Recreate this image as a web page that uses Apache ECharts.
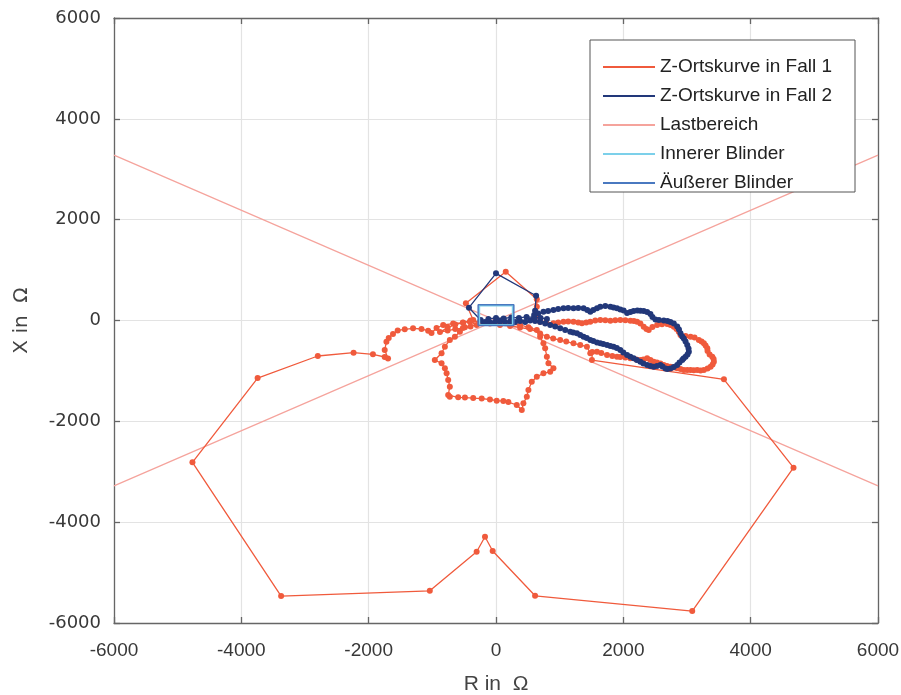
<!DOCTYPE html>
<html>
<head>
<meta charset="utf-8">
<title>Z-Ortskurve</title>
<script src="https://cdn.jsdelivr.net/npm/echarts@6.0.0/dist/echarts.min.js"></script>
<style>
  html, body { margin: 0; padding: 0; background: #fff; }
  #chart { width: 901px; height: 695px; }
</style>
</head>
<body>
<div id="chart"></div>
<script>
// Fall 1 (R / X in Ohm)
const fall1R = [-358, -473, 153, 641, 641, 646,
  693, 788, 902, 977, 1060, 1134, 1217, 1292, 1350, 1418,
  1481, 1559, 1638, 1717, 1796, 1874, 1953, 2032, 2111, 2166,
  2216, 2268, 2320, 2363, 2399, 2457, 2531, 2607, 2689, 2741,
  2793, 2835, 2871, 2898, 2977, 3056, 3119, 3186, 3229, 3265,
  3292, 3319, 3323, 3355, 3397, 3418, 3422, 3402, 3371, 3323,
  3265, 3213, 3161, 3107, 3056, 3004, 2950, 2898, 2846, 2793,
  2741, 2685, 2635, 2583, 2528, 2477, 2426, 2374, 2315, 2268,
  2205, 2111, 2032, 1953, 1901, 1827, 1744, 1654, 1586, 1512, 1507,
  3580, 4673, 3082, 614, -52, -173, -304, -1040, -3375, -4768, -3744, -2799, -2237, -1933, -1748, -1696,
  -1748, -1721, -1685, -1618, -1544, -1433, -1303, -1170, -1066, -1013, -934, -830, -673, -515, -410, -304,
  -488, -567, -646, -725, -803, -855, -961, -855, -803, -776,
  -751, -725, -751, -725, -594, -488, -358, -225, -95, 11,
  115, 194, 326, 405, 430, 484, 509, 562, 641, 745,
  851, 902, 824, 799, 772, 745, 693, 641, 509, 378,
  221, 63, -95, -252,
  -400, -520, -640, -760, -880, -760, -640, -520, -400,
  63, 221, 378, 536, 693, 799, 898, 1008, 1103, 1217, 1323, 1428, 1481];
const fall1X = [10, 341, 968, 421, 274, 89,
  -24, -40, -56, -40, -24, -20, -24, -40, -56, -40,
  -24, 0, 10, 4, -4, 4, 10, 4, -4, -10,
  -24, -60, -123, -169, -188, -129, -89, -75, -69, -89,
  -123, -169, -222, -288, -308, -321, -337, -387, -417, -452,
  -496, -552, -605, -675, -718, -764, -817, -873, -917, -952,
  -982, -992, -982, -988, -982, -982, -982, -962, -948, -932,
  -917, -903, -883, -853, -833, -817, -784, -750, -774, -784,
  -774, -750, -734, -724, -718, -704, -684, -645, -619, -625, -784,
  -1167, -2920, -5764, -5460, -4573, -4289, -4587, -5361, -5466, -2813, -1141, -704, -639, -671, -724, -754,
  -585, -421, -347, -268, -198, -175, -155, -169, -202, -248, -149, -89, -60, -44, -24, -89,
  -135, -222, -321, -387, -520, -651, -784, -849, -948, -1048,
  -1180, -1313, -1478, -1512, -1524, -1528, -1538, -1548, -1567, -1591,
  -1597, -1617, -1676, -1776, -1643, -1512, -1379, -1214, -1115, -1048,
  -1016, -948, -849, -718, -552, -452, -321, -188, -135, -89,
  -69, -50, -60, -40,
  -120, -150, -170, -200, -230, -140, -80, -40, 0,
  -89, -109, -139, -169, -258, -321, -357, -387, -417, -452, -486, -520, -651];

// Fall 2
const fall2R = [-200, -241, -425, 0, 630, 614, 599, 662, 745, 819,
  902, 977, 1060, 1134, 1217, 1292, 1375, 1433, 1481, 1528,
  1586, 1638, 1717, 1796, 1847, 1901, 1953, 2005, 2059, 2111,
  2162, 2221, 2268, 2320, 2374, 2426, 2457, 2504, 2559, 2635,
  2693, 2741, 2793, 2846, 2874, 2898, 2925, 2950, 2977, 3004,
  3024, 3029, 3008, 2977, 2945, 2925, 2882, 2846, 2793, 2741,
  2693, 2662, 2615, 2583, 2528, 2477, 2426, 2374, 2315, 2268,
  2213, 2162, 2111, 2059, 2000, 1953, 1898, 1847, 1796, 1744,
  1685, 1638, 1586, 1528, 1481, 1425, 1375, 1323, 1271, 1213,
  1166, 1087, 1008, 929, 851, 772, 693, 614, 536, 457,
  378, 299, 221, 142, 63, -16, -95, -173,
  -120, 0, 120, 240, 360, 480, 600, 700, 800];
const fall2X = [-44, 10, 254, 936, 492, 194, 109, 139, 175, 188,
  208, 228, 242, 248, 242, 248, 242, 208, 175, 208,
  242, 274, 288, 274, 258, 242, 218, 198, 149, 169,
  188, 198, 194, 188, 169, 129, 69, 20, 10, 0,
  -10, -30, -60, -119, -179, -254, -317, -357, -417, -486,
  -556, -619, -675, -718, -754, -784, -833, -883, -923, -950,
  -962, -950, -913, -883, -903, -917, -903, -883, -853, -817,
  -784, -750, -718, -684, -635, -585, -546, -520, -506, -486,
  -466, -452, -436, -407, -387, -347, -321, -288, -254, -238,
  -222, -188, -155, -119, -89, -60, -30, -10, 0, -30,
  -10, -30, -20, -30, -20, -30, -40, -30,
  30, 50, 40, 60, 50, 70, 60, 50, 30];

// Lastbereich: two lines through the origin
const lastR = [-6000, 6000];
const lastXa = [3280, -3280];
const lastXb = [-3280, 3280];

// Blinder rectangles
const innerR = [-260, 260, 260, -260, -260];
const innerX = [-85, -85, 295, 295, -85];
const outerR = [-280, 280, 280, -280, -280];
const outerX = [-100, -100, 310, 310, -100];

const ticks = [-6000, -4000, -2000, 0, 2000, 4000, 6000];

const zip = (a, b) => a.map((v, i) => [v, b[i]]);

const chart = echarts.init(document.getElementById('chart'), null, { renderer: 'canvas' });

const axisLineStyle = { color: '#666', width: 1.3 };
const baseAxis = {
  type: 'value',
  min: ticks[0],
  max: ticks[ticks.length - 1],
  interval: 2000
};
const plain = (v) => String(v);

const option = {
  animation: false,
  backgroundColor: '#fff',
  grid: { left: 114, right: 23, top: 18, bottom: 72, outerBoundsMode: 'none' },
  xAxis: [
    Object.assign({}, baseAxis, {
      position: 'bottom',
      name: 'R in  Ω',
      nameLocation: 'middle',
      nameGap: 51,
      nameTextStyle: { fontSize: 21, color: '#444', fontFamily: 'Liberation Sans' },
      axisLine: { show: true, onZero: false, lineStyle: axisLineStyle },
      axisTick: { show: true, inside: true, length: 6, lineStyle: axisLineStyle },
      axisLabel: { fontSize: 19, color: '#383838', margin: 18, fontFamily: 'Liberation Sans', formatter: plain },
      splitLine: { show: true, lineStyle: { color: '#e3e3e3', width: 1.2 } }
    }),
    Object.assign({}, baseAxis, {
      position: 'top',
      axisLine: { show: true, onZero: false, lineStyle: axisLineStyle },
      axisTick: { show: true, inside: true, length: 6, lineStyle: axisLineStyle },
      axisLabel: { show: false },
      splitLine: { show: false }
    })
  ],
  yAxis: [
    Object.assign({}, baseAxis, {
      position: 'left',
      name: 'X in  Ω',
      nameLocation: 'middle',
      nameGap: 82,
      nameTextStyle: { fontSize: 20, color: '#444', fontFamily: 'DejaVu Sans' },
      axisLine: { show: true, onZero: false, lineStyle: axisLineStyle },
      axisTick: { show: true, inside: true, length: 6, lineStyle: axisLineStyle },
      axisLabel: { fontSize: 18, color: '#383838', margin: 13, fontFamily: 'DejaVu Sans', formatter: plain },
      splitLine: { show: true, lineStyle: { color: '#e3e3e3', width: 1.2 } }
    }),
    Object.assign({}, baseAxis, {
      position: 'right',
      axisLine: { show: true, onZero: false, lineStyle: axisLineStyle },
      axisTick: { show: true, inside: true, length: 6, lineStyle: axisLineStyle },
      axisLabel: { show: false },
      splitLine: { show: false }
    })
  ],
  graphic: [
    {
      type: 'rect',
      z: 10,
      shape: { x: 590, y: 40, width: 265, height: 152 },
      style: { fill: '#fff', stroke: '#555', lineWidth: 1 }
    }
  ],
  legend: {
    orient: 'vertical',
    left: 598,
    top: 52,
    z: 20,
    icon: 'rect',
    itemWidth: 52,
    itemHeight: 2,
    itemGap: 9,
    selectedMode: false,
    textStyle: { fontSize: 19, lineHeight: 20, color: '#222', fontFamily: 'Liberation Sans' },
    data: ['Z-Ortskurve in Fall 1', 'Z-Ortskurve in Fall 2', 'Lastbereich', 'Innerer Blinder', 'Äußerer Blinder']
  },
  series: [
    {
      name: 'Lastbereich',
      type: 'line',
      z: 1,
      data: zip(lastR, lastXa),
      symbol: 'none',
      color: '#f5a39c',
      lineStyle: { width: 1.2 }
    },
    {
      name: 'Lastbereich',
      type: 'line',
      z: 1,
      data: zip(lastR, lastXb),
      symbol: 'none',
      color: '#f5a39c',
      lineStyle: { width: 1.2 }
    },
    {
      name: 'Z-Ortskurve in Fall 1',
      type: 'line',
      z: 3,
      data: zip(fall1R, fall1X),
      symbol: 'circle',
      symbolSize: 6,
      color: '#f05a3c',
      lineStyle: { width: 1.3 }
    },
    {
      name: 'Z-Ortskurve in Fall 2',
      type: 'line',
      z: 4,
      data: zip(fall2R, fall2X),
      symbol: 'circle',
      symbolSize: 6,
      color: '#22387a',
      lineStyle: { width: 1.3 }
    },
    {
      name: 'Innerer Blinder',
      type: 'line',
      z: 5,
      data: zip(innerR, innerX),
      symbol: 'none',
      color: '#7cd0ea',
      lineStyle: { width: 1.5 }
    },
    {
      name: 'Äußerer Blinder',
      type: 'line',
      z: 5,
      data: zip(outerR, outerX),
      symbol: 'none',
      color: '#4a79c0',
      lineStyle: { width: 1.5 }
    }
  ]
};

chart.setOption(option);
</script>
</body>
</html>
